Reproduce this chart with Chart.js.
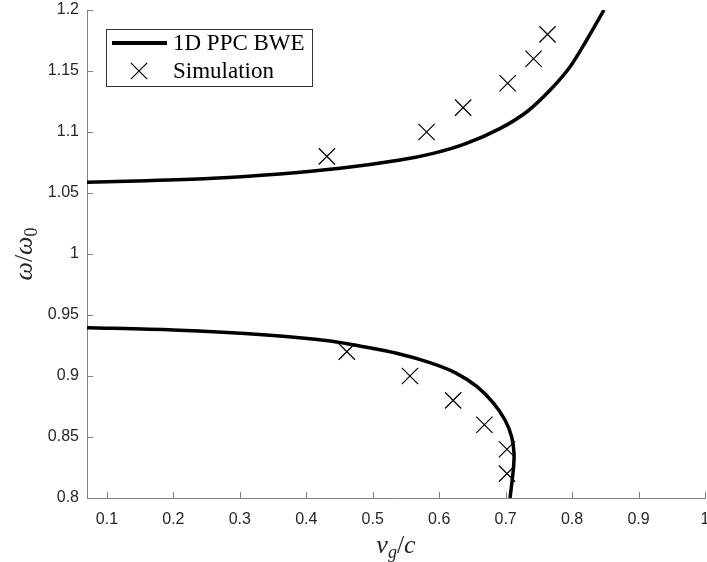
<!DOCTYPE html>
<html>
<head>
<meta charset="utf-8">
<script src="https://cdn.jsdelivr.net/npm/chart.js@4.4.0/dist/chart.umd.min.js"></script>
<style>
  body { margin: 0; background: #fff; }
</style>
</head>
<body>
<canvas id="bwechart" width="707" height="562"></canvas>
<script>
// 1D PPC BWE curve, upper branch (v_g/c, w/w0)
var bweUpperX = [0.070, 0.160, 0.260, 0.360, 0.451, 0.541, 0.591, 0.641, 0.692, 0.732, 0.767, 0.797, 0.822, 0.848];
var bweUpperY = [1.0588, 1.0601, 1.0620, 1.0656, 1.0702, 1.0770, 1.0825, 1.0907, 1.1030, 1.1166, 1.1344, 1.1535, 1.1754, 1.2000];
// lower branch
var bweLowerX = [0.070, 0.200, 0.340, 0.436, 0.486, 0.536, 0.586, 0.626, 0.657, 0.682, 0.699, 0.709, 0.7126, 0.7115, 0.7066];
var bweLowerY = [0.9396, 0.9377, 0.9336, 0.9287, 0.9240, 0.9186, 0.9109, 0.9022, 0.8912, 0.8776, 0.8639, 0.8502, 0.8366, 0.8230, 0.8000];
// simulation points
var simX = [0.431, 0.581, 0.636, 0.703, 0.742, 0.763, 0.461, 0.556, 0.621, 0.668, 0.702, 0.702];
var simY = [1.08, 1.10, 1.12, 1.14, 1.16, 1.18, 0.92, 0.90, 0.88, 0.86, 0.84, 0.82];

var xTicks = [0.1, 0.2, 0.3, 0.4, 0.5, 0.6, 0.7, 0.8, 0.9, 1];
var yTicks = [0.8, 0.85, 0.9, 0.95, 1, 1.05, 1.1, 1.15, 1.2];

function pts(xs, ys) {
    var out = [];
    for (var i = 0; i < xs.length; i++) out.push({x: xs[i], y: ys[i]});
    return out;
}

var axisCol = '#808080';
var textCol = '#262626';
var serif = '"Liberation Serif", "Times New Roman", serif';

// MATLAB style ticks pointing into the plot
var innerTicks = {
    id: 'innerTicks',
    afterDraw: function(chart) {
        var ctx = chart.ctx, a = chart.chartArea;
        var xs = chart.scales.x, ys = chart.scales.y;
        ctx.save();
        ctx.strokeStyle = axisCol;
        ctx.lineWidth = 1;
        ctx.beginPath();
        xs.ticks.forEach(function(t) {
            var px = Math.round(xs.getPixelForValue(t.value)) + 0.5;
            ctx.moveTo(px, a.bottom);
            ctx.lineTo(px, a.bottom - 6);
        });
        ys.ticks.forEach(function(t) {
            var py = Math.round(ys.getPixelForValue(t.value)) + 0.5;
            ctx.moveTo(a.left, py);
            ctx.lineTo(a.left + 6, py);
        });
        ctx.stroke();
        ctx.restore();
    }
};

// axis labels with subscripts
var axisTitles = {
    id: 'axisTitles',
    afterDraw: function(chart) {
        var ctx = chart.ctx, a = chart.chartArea;
        function run(parts) {
            var w = 0;
            parts.forEach(function(p) { ctx.font = p.f; p.w = ctx.measureText(p.t).width; w += p.w; });
            return w;
        }
        function draw(parts, x0, y0) {
            var x = x0;
            parts.forEach(function(p) {
                ctx.font = p.f;
                ctx.fillText(p.t, x, y0 + (p.dy || 0));
                x += p.w;
            });
        }
        ctx.save();
        ctx.fillStyle = textCol;
        ctx.textBaseline = 'alphabetic';
        ctx.textAlign = 'left';
        var xl = [
            {t: 'v', f: 'italic 26px ' + serif},
            {t: 'g', f: 'italic 18px ' + serif, dy: 5},
            {t: '/', f: '26px ' + serif},
            {t: 'c', f: 'italic 26px ' + serif}
        ];
        var w = run(xl);
        draw(xl, (a.left + a.right) / 2 - w / 2, 553);

        var yl = [
            {t: 'ω', f: 'italic 26px ' + serif},
            {t: '/', f: '26px ' + serif},
            {t: 'ω', f: 'italic 26px ' + serif},
            {t: '0', f: '18px ' + serif, dy: 5}
        ];
        w = run(yl);
        ctx.translate(32, (a.top + a.bottom) / 2);
        ctx.rotate(-Math.PI / 2);
        draw(yl, -w / 2, 0);
        ctx.restore();
    }
};

// boxed legend in the upper left corner
var boxLegend = {
    id: 'boxLegend',
    afterDraw: function(chart) {
        var ctx = chart.ctx, a = chart.chartArea;
        var items = chart.data.datasets.filter(function(d) { return d.inLegend !== false; });
        var bx = a.left + 19, by = a.top + 19, bw = 206, bh = 57;
        ctx.save();
        ctx.fillStyle = '#fff';
        ctx.fillRect(bx, by, bw, bh);
        ctx.strokeStyle = '#333';
        ctx.lineWidth = 1;
        ctx.strokeRect(bx + 0.5, by + 0.5, bw, bh);
        ctx.font = '23px ' + serif;
        ctx.textBaseline = 'middle';
        ctx.fillStyle = '#000';
        items.forEach(function(d, i) {
            var cy = by + 14 + i * 28;
            if (d.showLine) {
                ctx.strokeStyle = d.borderColor;
                ctx.lineWidth = d.borderWidth + 0.5;
                ctx.beginPath();
                ctx.moveTo(bx + 6, cy);
                ctx.lineTo(bx + 61, cy);
                ctx.stroke();
            } else {
                ctx.strokeStyle = d.pointBorderColor;
                ctx.lineWidth = d.pointBorderWidth;
                Chart.helpers.drawPoint(ctx, {
                    pointStyle: d.pointStyle, radius: d.pointRadius,
                    borderWidth: d.pointBorderWidth, rotation: 0
                }, bx + 33, cy);
            }
            ctx.fillText(d.label, bx + 67, cy + 1);
        });
        ctx.restore();
    }
};

var ctx = document.getElementById('bwechart');
var bweChart = new Chart(ctx, {
    type: 'scatter',
    data: {
        datasets: [{
            label: '1D PPC BWE',
            data: pts(bweUpperX, bweUpperY),
            showLine: true,
            borderColor: '#000',
            borderWidth: 3.5,
            pointRadius: 0,
            tension: 0.3
        }, {
            label: '1D PPC BWE',
            inLegend: false,
            data: pts(bweLowerX, bweLowerY),
            showLine: true,
            borderColor: '#000',
            borderWidth: 3.5,
            pointRadius: 0,
            tension: 0.3
        }, {
            label: 'Simulation',
            data: pts(simX, simY),
            showLine: false,
            pointStyle: 'crossRot',
            pointRadius: 11.5,
            pointBorderColor: '#000',
            pointBorderWidth: 1.2,
            borderColor: '#000',
            backgroundColor: '#000'
        }]
    },
    options: {
        responsive: false,
        animation: false,
        events: [],
        layout: { autoPadding: false, padding: { left: 0, right: 2, top: 10, bottom: 0 } },
        plugins: {
            legend: { display: false },
            tooltip: { enabled: false }
        },
        scales: {
            x: {
                type: 'linear',
                min: 0.07,
                max: 1,
                afterBuildTicks: function(s) { s.ticks = xTicks.map(function(v) { return {value: v}; }); },
                afterFit: function(s) { s.height = 64; s.paddingLeft = 0; s.paddingRight = 0; },
                ticks: {
                    color: textCol,
                    padding: 12,
                    maxRotation: 0,
                    autoSkip: false,
                    font: { family: '"Liberation Sans", Arial, sans-serif', size: 16 },
                    callback: function(v) { return String(+v.toFixed(2)); }
                },
                grid: { drawOnChartArea: false, drawTicks: false },
                border: { display: true, color: axisCol, width: 1 }
            },
            y: {
                type: 'linear',
                min: 0.8,
                max: 1.2,
                afterBuildTicks: function(s) { s.ticks = yTicks.map(function(v) { return {value: v}; }); },
                afterFit: function(s) { s.width = 87; s.paddingTop = 0; s.paddingBottom = 0; },
                ticks: {
                    color: textCol,
                    padding: 8,
                    autoSkip: false,
                    font: { family: '"Liberation Sans", Arial, sans-serif', size: 16 },
                    callback: function(v) { return String(+v.toFixed(2)); }
                },
                grid: { drawOnChartArea: false, drawTicks: false },
                border: { display: true, color: axisCol, width: 1 }
            }
        }
    },
    plugins: [innerTicks, axisTitles, boxLegend]
});
</script>
</body>
</html>
